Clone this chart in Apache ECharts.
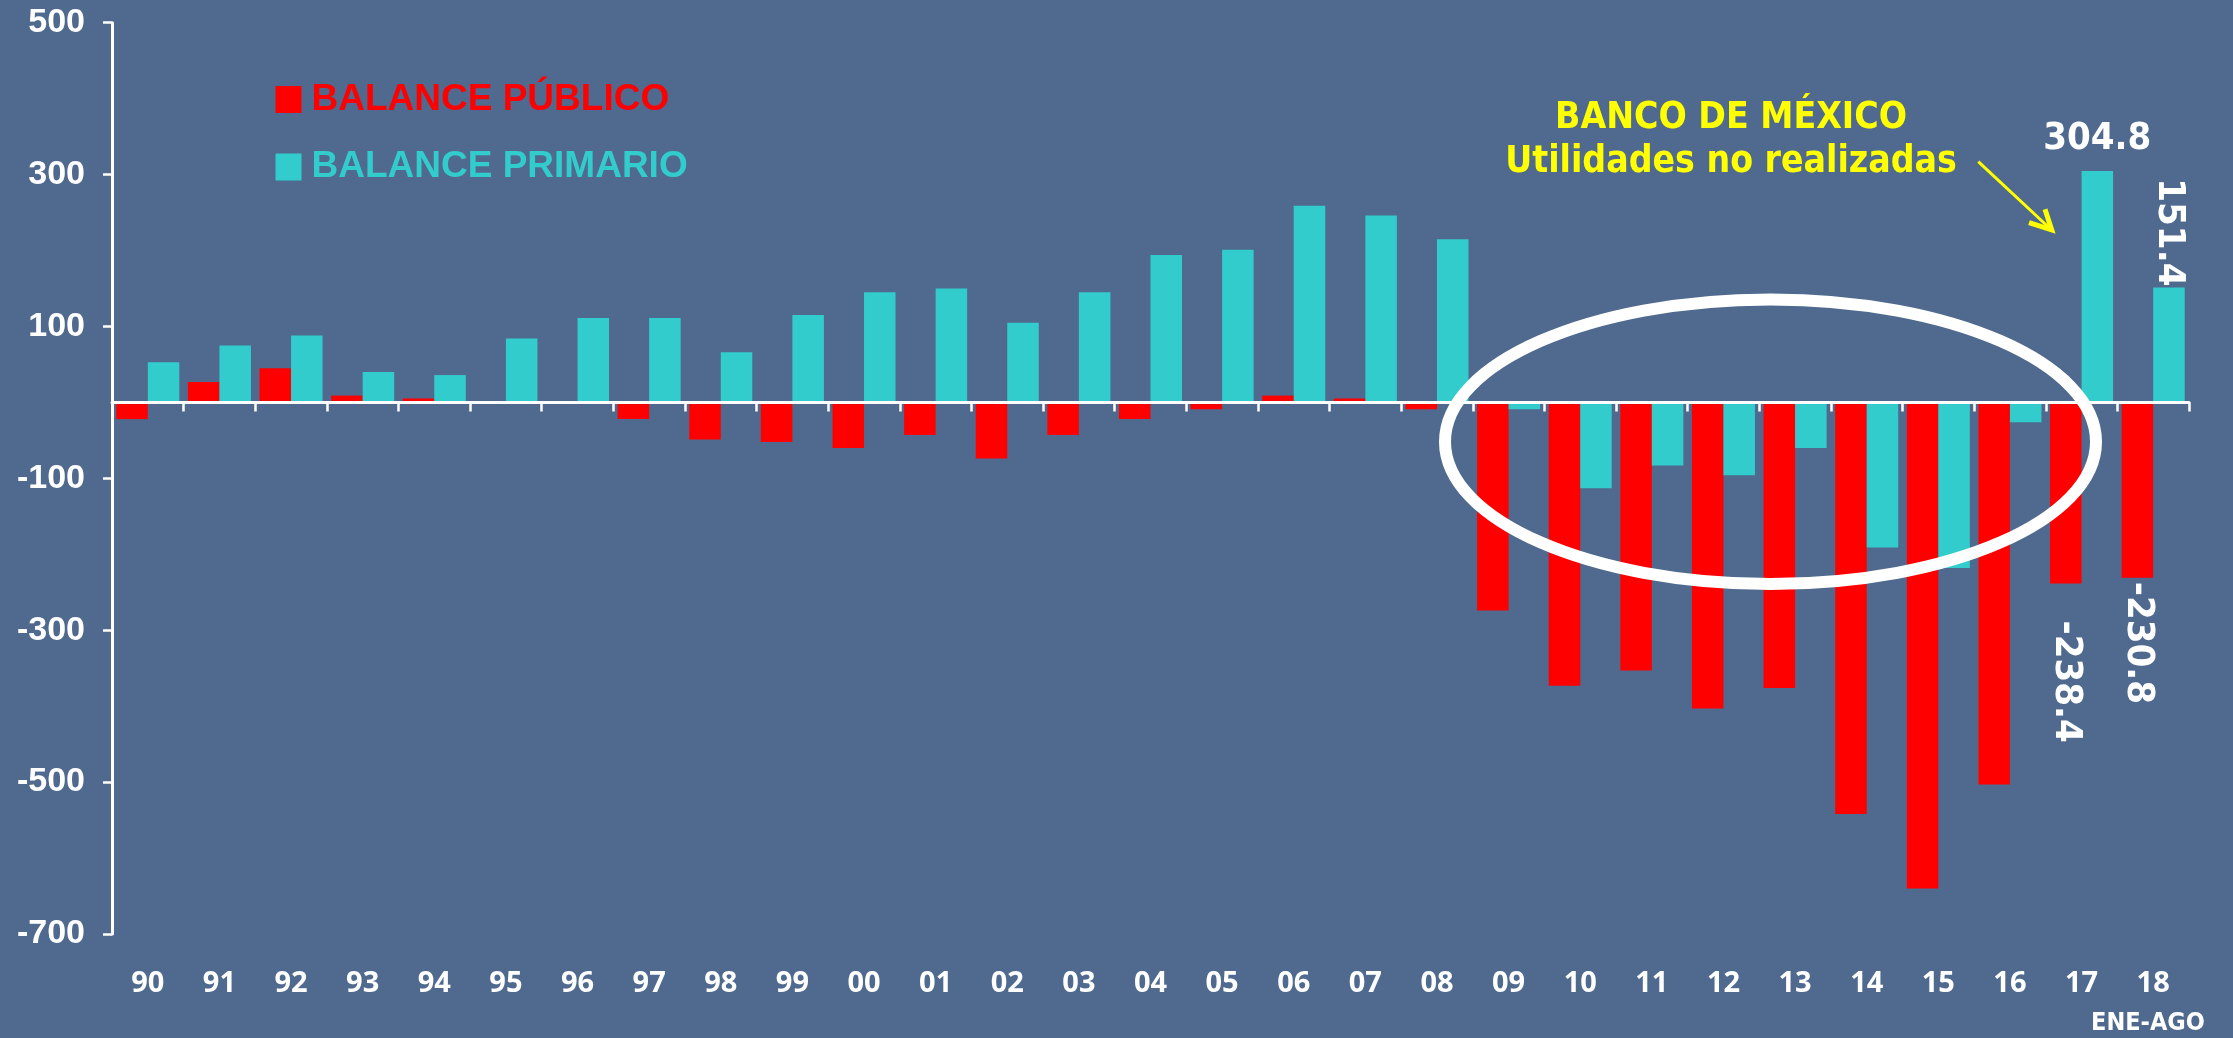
<!DOCTYPE html>
<html>
<head>
<meta charset="utf-8">
<script src="https://cdn.jsdelivr.net/npm/echarts@6/dist/echarts.min.js"></script>
<style>
  html, body { margin: 0; padding: 0; background: #4F6A8E; }
  #chart { width: 2233px; height: 1038px; }
</style>
</head>
<body>
<div id="chart"></div>
<script>
// ---- data ----
const categories = ['90','91','92','93','94','95','96','97','98','99',
                    '00','01','02','03','04','05','06','07','08','09',
                    '10','11','12','13','14','15','16','17','18'];
const balancePublico = [-22, 27, 45, 9, 5, 0, 0, -22, -49, -52,
                        -60, -43, -74, -43, -22, -9, 9, 5, -9, -274,
                        -373, -353, -403, -376, -542, -640, -503, -238.4, -230.8];
const balancePrimario = [53, 75, 88, 40, 36, 84, 111, 111, 66, 115,
                         145, 150, 105, 145, 194, 201, 259, 246, 215, -9,
                         -113, -83, -96, -60, -191, -218, -26, 304.8, 151.4];
const yTickLabels = ['-700','-500','-300','-100','100','300','500'];
const seriesNames = ['BALANCE PÚBLICO', 'BALANCE PRIMARIO'];
const annotationLines = ['BANCO DE MÉXICO', 'Utilidades no realizadas'];
const periodNote = 'ENE-AGO';

// ---- styles ----
const RED = '#FF0000';
const CYAN = '#33CCCC';
const YELLOW = '#FFFF00';
const WHITE = '#FFFFFF';
const COND = '"DejaVu Sans Condensed", "DejaVu Sans", sans-serif';

const valueLabelBase = {
  show: true, color: WHITE, fontFamily: COND, fontWeight: 'bold', fontSize: 38,
  formatter: '{c}'
};
const labelStyles = {
  publico: {
    '17': { position: 'outside', rotate: -90, align: 'left', verticalAlign: 'middle', distance: 37 },
    '18': { position: 'outside', rotate: -90, align: 'left', verticalAlign: 'middle', distance: 4 }
  },
  primario: {
    '17': { position: 'outside', distance: 13 },
    '18': { position: 'outside', rotate: -90, align: 'right', verticalAlign: 'middle', distance: 1 }
  }
};
function buildData(values, styles) {
  return values.map((v, i) => {
    const s = styles[categories[i]];
    return s ? { value: v, label: Object.assign({}, valueLabelBase, s) } : v;
  });
}

const chart = echarts.init(document.getElementById('chart'), null, { renderer: 'canvas' });
chart.setOption({
  backgroundColor: '#4F6A8E',
  animation: false,
  grid: { left: 112, right: 44, top: 22.7, bottom: 104, containLabel: false },
  legend: {
    orient: 'vertical', left: 275.5, top: 81, padding: 0,
    itemWidth: 26, itemHeight: 27, itemGap: 30.5, icon: 'rect',
    selectedMode: false,
    textStyle: { fontFamily: '"Liberation Sans", Arial, sans-serif', fontWeight: 'bold',
                 fontSize: 37, lineHeight: 27, padding: [0, 0, 0, 5] },
    data: [
      { name: seriesNames[0], textStyle: { color: RED } },
      { name: seriesNames[1], textStyle: { color: CYAN } }
    ]
  },
  xAxis: [
    {
      type: 'category', data: categories, position: 'bottom', z: 5,
      axisLine: { onZero: true, lineStyle: { color: WHITE, width: 3 } },
      axisTick: { show: true, length: 9, lineStyle: { color: WHITE, width: 2.5 } },
      axisLabel: { show: false }
    },
    {
      type: 'category', data: categories, position: 'bottom',
      axisLine: { show: false, onZero: false },
      axisTick: { show: false },
      axisLabel: { color: WHITE, fontFamily: '"Open Sans", sans-serif', fontWeight: 'bold',
                   fontSize: 29, margin: 35 }
    }
  ],
  yAxis: {
    type: 'value', min: -700, max: 500, interval: 200,
    axisLine: { show: true, lineStyle: { color: WHITE, width: 3 } },
    axisTick: { show: true, length: 9, lineStyle: { color: WHITE, width: 2.5 } },
    splitLine: { show: false },
    axisLabel: { color: WHITE, fontFamily: '"Liberation Sans", Arial, sans-serif', fontWeight: 'bold',
                 fontSize: 34, margin: 27,
                 formatter: v => yTickLabels.includes(String(v)) ? String(v) : '' }
  },
  series: [
    {
      name: seriesNames[0], type: 'bar', xAxisIndex: 0,
      data: buildData(balancePublico, labelStyles.publico),
      itemStyle: { color: RED }, barGap: '0%', barCategoryGap: '12%'
    },
    {
      name: seriesNames[1], type: 'bar', xAxisIndex: 0,
      data: buildData(balancePrimario, labelStyles.primario),
      itemStyle: { color: CYAN }, barGap: '0%', barCategoryGap: '12%'
    }
  ],
  graphic: [
    {
      type: 'ellipse', z: 100,
      shape: { cx: 1770.5, cy: 441.7, rx: 325.5, ry: 142.3 },
      style: { fill: null, stroke: WHITE, lineWidth: 12 }
    },
    {
      type: 'line', z: 100,
      shape: { x1: 1978.3, y1: 161.7, x2: 2050, y2: 228.5 },
      style: { stroke: YELLOW, lineWidth: 3 }
    },
    {
      type: 'polyline', z: 100,
      shape: { points: [[2029, 222.7], [2051.7, 230], [2045, 209.3]] },
      style: { stroke: YELLOW, lineWidth: 5, fill: null, lineJoin: 'miter' }
    },
    {
      type: 'text', z: 100,
      style: { text: annotationLines[0], x: 1731, y: 118, fill: YELLOW,
               font: 'bold 37px ' + COND, align: 'center', verticalAlign: 'middle',
               textAlign: 'center', textVerticalAlign: 'middle' }
    },
    {
      type: 'text', z: 100,
      style: { text: annotationLines[1], x: 1731, y: 162, fill: YELLOW,
               font: 'bold 37px ' + COND, align: 'center', verticalAlign: 'middle',
               textAlign: 'center', textVerticalAlign: 'middle' }
    },
    {
      type: 'text', z: 100,
      style: { text: periodNote, x: 2148, y: 1023, fill: WHITE,
               font: 'bold 25px ' + COND, align: 'center', verticalAlign: 'middle',
               textAlign: 'center', textVerticalAlign: 'middle' }
    }
  ]
});
</script>
</body>
</html>
